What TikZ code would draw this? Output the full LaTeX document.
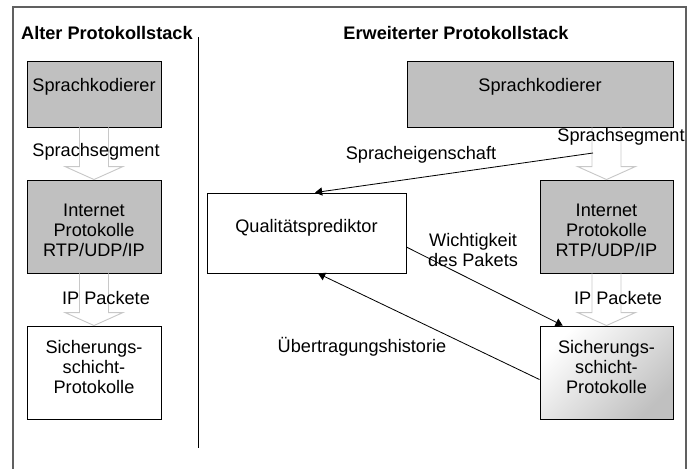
\documentclass[tikz,border=0pt]{standalone}
\usepackage{fontspec}
\setmainfont{Liberation Sans}
\usetikzlibrary{calc,arrows.meta}

\definecolor{kastengrau}{HTML}{C0C0C0}
\definecolor{rahmengrau}{HTML}{606060}
\definecolor{pfeilgrau}{HTML}{C8C8C8}

\tikzset{
  kasten/.style={draw, line width=0.8pt, inner sep=0pt},
  grau/.style={kasten, fill=kastengrau},
  hohl/.style={draw=pfeilgrau, line width=0.8pt},
  pfeil/.style={line width=0.7pt, -{Triangle[length=6pt,width=7pt]}},
}

%% hollow block arrow from box #1 down to box #2
\newcommand{\hohlpfeil}[2]{%
  \draw[hohl] ($(#1.south -| #2.north)+(-14.5,0)$) -- ($(#2.north)+(-14.5,-13)$)
    -- ($(#2.north)+(-29,-13)$) -- (#2.north) -- ($(#2.north)+(29,-13)$)
    -- ($(#2.north)+(14.5,-13)$) -- ($(#1.south -| #2.north)+(14.5,0)$);}

\begin{document}
\begin{tikzpicture}[x=0.03cm, y=-0.03cm,
  every node/.style={font=\fontsize{15.5}{17}\selectfont, align=center}]

\useasboundingbox (0,0) rectangle (693,468);

%% frame and divider
\draw[rahmengrau, line width=1.5pt] (13,472) -- (13,7) -- (686,7) -- (686,472);
\draw[line width=0.7pt] (198,37) -- (198,448);

%% titles
\node[anchor=west, font=\fontsize{15.5}{17}\selectfont\bfseries] (titelL) at (17,33) {Alter Protokollstack};
\node[font=\fontsize{15.5}{17}\selectfont\bfseries] (titelR) at (456,33) {Erweiterter Protokollstack};

%% old stack
\node[grau, minimum width=4.02cm, minimum height=1.98cm] (kodL) at (94,94) {};
\node (kodLtxt) at (94,87) {Sprachkodierer};
\node[grau, minimum width=4.02cm, minimum height=2.79cm] (ipL) at (94,226.5) {};
\node (ipLtxt) at (94,230) {Internet\\Protokolle\\RTP/UDP/IP};
\node[kasten, fill=white, minimum width=4.02cm, minimum height=2.79cm] (sichL) at (94,372.5) {};
\node (sichLtxt) at (94,367) {Sicherungs-\\schicht-\\Protokolle};

%% extended stack
\node[grau, minimum width=7.98cm, minimum height=1.98cm] (kodR) at (540,94) {};
\node (kodRtxt) at (540,87) {Sprachkodierer};
\node[grau, minimum width=3.99cm, minimum height=2.79cm] (ipR) at (606.5,226.5) {};
\node (ipRtxt) at (606.5,230) {Internet\\Protokolle\\RTP/UDP/IP};
\node[kasten, top color=white, bottom color=kastengrau, shading angle=45,
      minimum width=3.99cm, minimum height=2.79cm] (sichR) at (606.5,372.5) {};
\node (sichRtxt) at (606.5,367) {Sicherungs-\\schicht-\\Protokolle};
\node[kasten, fill=white, minimum width=5.97cm, minimum height=2.4cm] (qual) at (306.5,233) {};
\node (qualtxt) at (306.5,228) {Qualitätsprediktor};

%% hollow arrows
\hohlpfeil{kodL}{ipL}
\hohlpfeil{ipL}{sichL}
\hohlpfeil{kodR}{ipR}
\hohlpfeil{ipR}{sichR}

%% arrow labels
\node (segL) at (96,152) {Sprachsegment};
\node (pakL) at (106,298) {IP Packete};
\node (segR) at (621,137) {Sprachsegment};
\node (pakR) at (618,298) {IP Packete};

%% black arrows
\coordinate (eigStart) at (593,153);
\draw[pfeil] (eigStart) -- (qual.78);
\draw[pfeil] (qual.-8) -- (sichR.133);
\draw[pfeil] (sichR.186) -- (qual.-74);

\node (eig) at (421,155) {Spracheigenschaft};
\node (wicht) at (473,250) {Wichtigkeit\\des Pakets};
\node (hist) at (362,347) {Übertragungshistorie};

\end{tikzpicture}
\end{document}
